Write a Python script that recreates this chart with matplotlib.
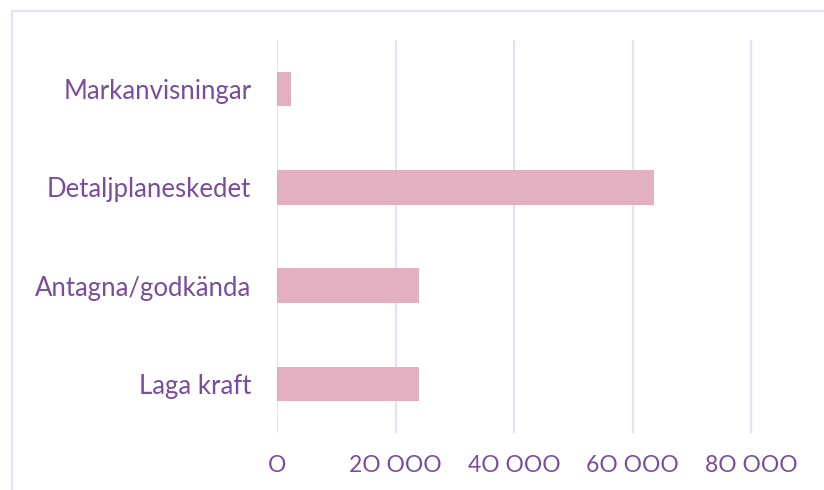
import matplotlib.pyplot as plt
from matplotlib.patches import Rectangle
from matplotlib.ticker import FuncFormatter

# Data
kategorier = ['Markanvisningar', 'Detaljplaneskedet', 'Antagna/godkända', 'Laga kraft']
antal = [2400, 63700, 23900, 23900]
xticks = [0, 20000, 40000, 60000, 80000]

textfarg = '#7a4c9e'
stapelfarg = '#e3b0c2'
linjefarg = '#ebdff4'

fig = plt.figure(figsize=(8.24, 4.90), dpi=100)
ax = fig.add_axes([277 / 824, 1 - 433 / 490, (824 - 277) / 824, (433 - 40) / 490])

y = list(range(len(kategorier)))
ax.barh(y, antal, height=0.35, color=stapelfarg, zorder=2)
ax.set_ylim(len(kategorier) - 0.5, -0.5)
ax.set_xlim(0, 20000 * (824 - 277) / 118.5)

ax.set_xticks(xticks)
ax.xaxis.set_major_formatter(FuncFormatter(lambda v, p: f'{int(v):,}'.replace(',', ' ').replace('0', 'O')))
ax.set_yticks(y)
ax.set_yticklabels(kategorier)

ax.grid(axis='x', color=linjefarg, linewidth=1.6, zorder=0)
for s in ax.spines.values():
    s.set_visible(False)
ax.tick_params(length=0, labelcolor=textfarg)
ax.tick_params(axis='x', pad=16, labelsize=16.5)
ax.tick_params(axis='y', pad=18.5, labelsize=18.5)
for lbl in ax.get_xticklabels() + ax.get_yticklabels():
    lbl.set_fontfamily(['Lato', 'DejaVu Sans'])

# ram runt diagrammet
fig.patches.append(Rectangle((12 / 824, -0.1), 1.2, 1 - 11 / 490 + 0.1, transform=fig.transFigure,
                             fill=False, edgecolor=linjefarg, linewidth=1.6))

plt.savefig('out.png', dpi=100)
